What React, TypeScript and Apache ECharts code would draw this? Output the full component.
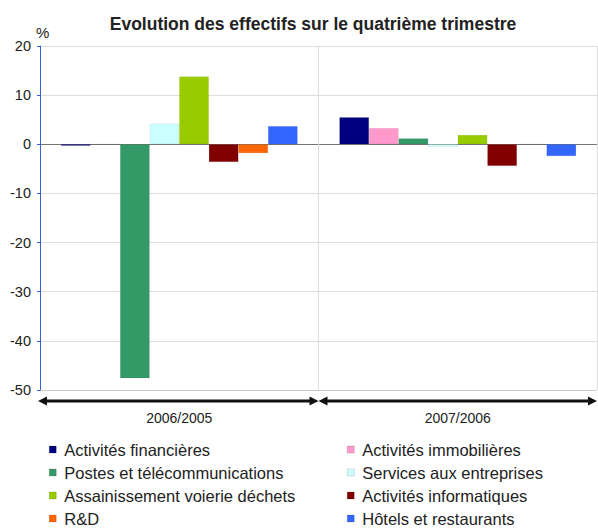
import React, { useEffect, useRef } from "react";
import * as echarts from "echarts";

const categories = ["2006/2005", "2007/2006"];
const seriesNames = [
  "Activités financières",
  "Activités immobilières",
  "Postes et télécommunications",
  "Services aux entreprises",
  "Assainissement voierie déchets",
  "Activités informatiques",
  "R&D",
  "Hôtels et restaurants",
];
const financieres = [-0.3, 5.5];
const immobilieres = [0, 3.3];
const postes = [-47.6, 1.2];
const services = [4.2, -0.5];
const assainissement = [13.8, 1.9];
const informatiques = [-3.6, -4.4];
const rd = [-1.8, 0];
const hotels = [3.7, -2.4];
const seriesValues = [financieres, immobilieres, postes, services, assainissement, informatiques, rd, hotels];
const seriesColors = ["#000080", "#ff99cc", "#339966", "#ccffff", "#99cc00", "#800000", "#ff6600", "#3366ff"];
const yMin = -50;
const yMax = 20;
const yStep = 10;

const FONT = "'Liberation Sans', Arial, sans-serif";

export default function App() {
  const ref = useRef<HTMLDivElement>(null);
  useEffect(() => {
    if (!ref.current) return;
    const chart = echarts.init(ref.current, undefined, { renderer: "svg" });
    const splitColors: string[] = [];
    for (let v = yMin; v <= yMax; v += yStep) {
      splitColors.push(v === 0 ? "#777777" : v === yMin ? "#cccccc" : "#dddddd");
    }
    const legendBase = {
      orient: "vertical",
      top: 441,
      height: 140,
      padding: 0,
      itemWidth: 7,
      itemHeight: 7,
      itemGap: 6,
      icon: "rect",
      selectedMode: false,
      itemStyle: { borderColor: "rgba(0,0,0,0.25)", borderWidth: 0.5 },
      textStyle: { fontSize: 16.5, color: "#222", lineHeight: 16, padding: [0, 0, 0, 3], fontFamily: FONT },
    };
    chart.setOption({
      animation: false,
      textStyle: { fontFamily: FONT },
      grid: { left: 40, right: 1, top: 46, bottom: 138, containLabel: false },
      xAxis: {
        type: "category",
        data: categories,
        axisLine: { show: false, onZero: false },
        axisTick: { show: false },
        splitLine: { show: true, interval: 0, lineStyle: { color: "#dddddd", width: 1 } },
        axisLabel: { margin: 21, fontSize: 14, color: "#222", fontFamily: FONT },
      },
      yAxis: {
        type: "value",
        min: yMin,
        max: yMax,
        interval: yStep,
        axisLine: { show: true, lineStyle: { color: "#3a5ee0", width: 1 } },
        axisTick: { show: true, inside: false, length: 3, lineStyle: { color: "#3a5ee0" } },
        axisLabel: { margin: 9, fontSize: 14.5, color: "#222", fontFamily: FONT },
        splitLine: { show: true, lineStyle: { color: splitColors, width: 1 } },
      },
      legend: [
        {
          ...legendBase,
          left: 49,
          data: [seriesNames[0], seriesNames[2], seriesNames[4], seriesNames[6]],
        },
        {
          ...legendBase,
          left: 347,
          data: [seriesNames[1], seriesNames[3], seriesNames[5], seriesNames[7]],
        },
      ],
      series: seriesNames.map((name, i) => ({
        name,
        type: "bar",
        data: seriesValues[i],
        barGap: "0%",
        barCategoryGap: "15%",
        itemStyle: { color: seriesColors[i], borderColor: "rgba(0,0,0,0.12)", borderWidth: 0.5 },
      })),
    });

    const c0 = chart.convertToPixel({ xAxisIndex: 0 }, categories[0]) as number;
    const c1 = chart.convertToPixel({ xAxisIndex: 0 }, categories[1]) as number;
    const half = (c1 - c0) / 2;
    const yb = (chart.convertToPixel({ yAxisIndex: 0 }, yMin) as number) + 11;
    const bounds = [c0 - half - 2, c0 + half, c1 + half];
    const L = 9;
    const H = 4.5;
    const graphics: any[] = [
      {
        type: "text",
        x: 313,
        y: 24,
        style: {
          text: "Evolution des effectifs sur le quatrième trimestre",
          font: `bold 17.5px ${FONT}`,
          fill: "#222",
          textAlign: "center",
          textVerticalAlign: "middle",
        },
      },
      {
        type: "text",
        x: 36,
        y: 32,
        style: { text: "%", font: `15px ${FONT}`, fill: "#222", textAlign: "left", textVerticalAlign: "middle" },
      },
    ];
    for (let i = 0; i < bounds.length - 1; i++) {
      const a = bounds[i];
      const b = bounds[i + 1];
      graphics.push({
        type: "line",
        shape: { x1: a + L - 1, y1: yb, x2: b - L + 1, y2: yb },
        style: { stroke: "#111", lineWidth: 3 },
      });
      graphics.push({
        type: "polygon",
        shape: { points: [[a, yb], [a + L, yb - H], [a + L, yb + H]] },
        style: { fill: "#111" },
      });
      graphics.push({
        type: "polygon",
        shape: { points: [[b, yb], [b - L, yb - H], [b - L, yb + H]] },
        style: { fill: "#111" },
      });
    }
    chart.setOption({ graphic: graphics });

    return () => chart.dispose();
  }, []);
  return (
    <div
      ref={ref}
      style={{ position: "absolute", left: 0, top: 0, width: 598, height: 528, background: "#fff" }}
    />
  );
}
